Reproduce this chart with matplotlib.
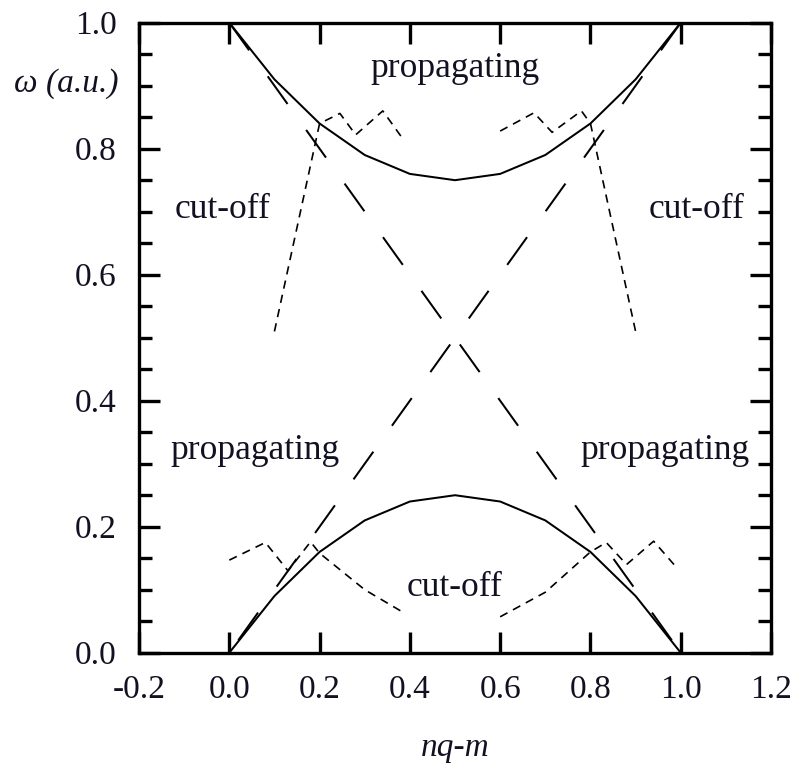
import matplotlib
matplotlib.use('Agg')
import matplotlib.pyplot as plt
from matplotlib.ticker import FixedLocator, MultipleLocator

plt.rcParams['font.family'] = ['Liberation Serif', 'DejaVu Serif']
plt.rcParams['lines.scale_dashes'] = False
plt.rcParams['axes.unicode_minus'] = False

# ---- data ----
x_grid = [0.0, 0.1, 0.2, 0.3, 0.4, 0.5, 0.6, 0.7, 0.8, 0.9, 1.0]
upper_band = [1.0, 0.91, 0.84, 0.79, 0.76, 0.75, 0.76, 0.79, 0.84, 0.91, 1.0]
lower_band = [0.0, 0.09, 0.16, 0.21, 0.24, 0.25, 0.24, 0.21, 0.16, 0.09, 0.0]

desc_x = [0.0, 1.0]
desc_w = [1.0, 0.0]
asc_x = [1.0, 0.0]
asc_w = [1.0, 0.0]

top_left_x = [0.1, 0.2, 0.245, 0.28, 0.34, 0.38]
top_left_w = [0.51, 0.84, 0.856, 0.822, 0.86, 0.82]
top_right_x = [0.6, 0.675, 0.715, 0.78, 0.8, 0.9]
top_right_w = [0.828, 0.857, 0.826, 0.86, 0.84, 0.51]
bot_left_x = [0.0, 0.08, 0.13, 0.18, 0.2, 0.3, 0.39]
bot_left_w = [0.147, 0.175, 0.13, 0.176, 0.158, 0.1, 0.062]
bot_right_x = [0.6, 0.7, 0.8, 0.835, 0.88, 0.94, 0.985]
bot_right_w = [0.057, 0.096, 0.16, 0.175, 0.14, 0.177, 0.14]

x_ticks = [-0.2, 0.0, 0.2, 0.4, 0.6, 0.8, 1.0, 1.2]
x_tick_labels = ['-0.2', '0.0', '0.2', '0.4', '0.6', '0.8', '1.0', '1.2']
y_ticks = [0.0, 0.2, 0.4, 0.6, 0.8, 1.0]
y_tick_labels = ['0.0', '0.2', '0.4', '0.6', '0.8', '1.0']

region_labels = ['propagating', 'cut-off', 'cut-off', 'propagating', 'propagating', 'cut-off']
region_x = [0.5, -0.014, 1.036, 0.057, 0.965, 0.5]
region_y = [0.928, 0.703, 0.703, 0.321, 0.321, 0.103]

# ---- figure ----
fig = plt.figure(figsize=(7.98, 7.69), dpi=100)
ax = fig.add_axes([0.1742, 0.1512, 0.792, 0.8193])

lw = 1.45
ax.plot(x_grid, upper_band, color='black', lw=lw, solid_joinstyle='miter')
ax.plot(x_grid, lower_band, color='black', lw=lw, solid_joinstyle='miter')
ax.plot(desc_x, desc_w, color='black', lw=lw, dashes=(24.5, 23))
ax.plot(asc_x, asc_w, color='black', lw=lw, dashes=(24.5, 23))
for xs, ws in [(top_left_x, top_left_w), (top_right_x, top_right_w),
               (bot_left_x, bot_left_w), (bot_right_x, bot_right_w)]:
    ax.plot(xs, ws, color='black', lw=1.2, dashes=(6, 4.5))

tc = '#111122'
for t, xx, yy in zip(region_labels, region_x, region_y):
    ax.text(xx, yy, t, ha='center', va='center', fontsize=25.5, color=tc)

ax.set_xlim(-0.2, 1.2)
ax.set_ylim(0.0, 1.0)
ax.xaxis.set_major_locator(FixedLocator(x_ticks))
ax.set_xticklabels(x_tick_labels)
ax.yaxis.set_major_locator(FixedLocator(y_ticks))
ax.set_yticklabels(y_tick_labels)
ax.yaxis.set_minor_locator(MultipleLocator(0.05))

for s in ax.spines.values():
    s.set_linewidth(2.4)
ax.tick_params(which='both', direction='in', top=True, right=True, width=2.4,
               labelsize=24, labelcolor=tc)
ax.tick_params(which='major', length=15, pad=16)
ax.tick_params(which='minor', length=9.5)

ax.text(-0.033, 0.904, '\u03c9 (a.u.)', transform=ax.transAxes, ha='right',
        va='center', fontsize=24, style='italic', color=tc)
fig.text(455 / 798, 1 - 748 / 769, 'nq-m', ha='center', va='center',
         fontsize=24, style='italic', color=tc)

fig.savefig('out.png', dpi=100)
